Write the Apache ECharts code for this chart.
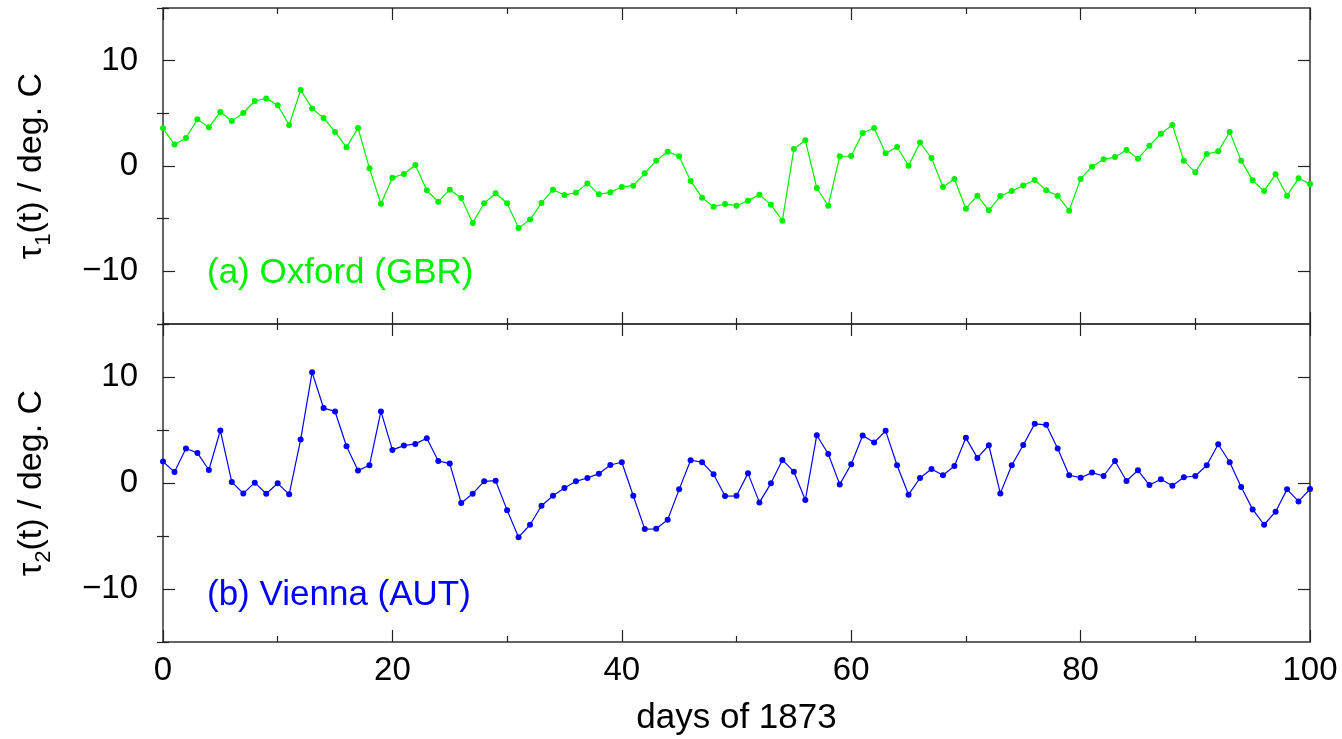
<!DOCTYPE html>
<html>
<head>
<meta charset="utf-8">
<title>days of 1873</title>
<script src="https://cdn.jsdelivr.net/npm/echarts@6/dist/echarts.min.js"></script>
<style>
    html, body { margin: 0; padding: 0; background: #fff; }
    #chart { width: 1342px; height: 739px; }
</style>
</head>
<body>
<div id="chart"></div>
<script>
// 天数 0..100
const days = [];
for (let d = 0; d <= 100; d++) days.push(d);

// (a) Oxford 温度偏差
const oxford = [
    3.58, 2.03, 2.66, 4.43, 3.67, 5.13, 4.27, 5.03, 6.17, 6.42,
    5.76, 3.89, 7.22, 5.47, 4.56, 3.23, 1.77, 3.61, -0.22, -3.58,
    -1.11, -0.76, 0.09, -2.31, -3.39, -2.25, -3.04, -5.41, -3.54, -2.59,
    -3.54, -5.89, -5.09, -3.51, -2.25, -2.75, -2.53, -1.65, -2.69, -2.50,
    -1.99, -1.87, -0.70, 0.51, 1.36, 0.92, -1.42, -3.01, -3.86, -3.61,
    -3.77, -3.29, -2.72, -3.67, -5.19, 1.61, 2.44, -2.09, -3.77, 0.92,
    0.95, 3.13, 3.61, 1.20, 1.80, 0.03, 2.22, 0.76, -1.99, -1.23,
    -4.05, -2.82, -4.21, -2.85, -2.37, -1.85, -1.33, -2.31, -2.82, -4.24,
    -1.23, -0.06, 0.63, 0.85, 1.52, 0.70, 1.93, 3.07, 3.89, 0.51,
    -0.60, 1.14, 1.39, 3.23, 0.51, -1.36, -2.37, -0.79, -2.82, -1.17,
    -1.71
];

// (b) Vienna 温度偏差
const vienna = [
    2.02, 1.04, 3.25, 2.84, 1.23, 4.95, 0.09, -0.98, 0.03, -1.01,
    -0.03, -1.07, 4.10, 10.44, 7.07, 6.75, 3.47, 1.17, 1.67, 6.75,
    3.12, 3.53, 3.69, 4.23, 2.08, 1.83, -1.89, -1.01, 0.16, 0.22,
    -2.56, -5.11, -3.94, -2.15, -1.20, -0.47, 0.16, 0.47, 0.88, 1.70,
    1.96, -1.20, -4.35, -4.32, -3.47, -0.60, 2.15, 1.96, 0.82, -1.23,
    -1.21, 0.91, -1.83, -0.03, 2.18, 1.07, -1.61, 4.51, 2.74, -0.13,
    1.77, 4.48, 3.82, 4.92, 1.67, -1.10, 0.47, 1.32, 0.73, 1.61,
    4.26, 2.37, 3.56, -0.98, 1.67, 3.58, 5.58, 5.49, 3.25, 0.73,
    0.50, 0.98, 0.66, 2.08, 0.19, 1.20, -0.19, 0.35, -0.25, 0.54,
    0.66, 1.67, 3.66, 1.96, -0.38, -2.49, -3.94, -2.71, -0.60, -1.74,
    -0.57
];

// 刻度
const yMajorTicks = [-10, 0, 10];
const yMinorTicks = [-15, -5, 5, 15];

const FONT = "'Liberation Sans', Arial, sans-serif";
const FRAME = '#333';
const GREEN = '#00f000';
const BLUE = '#0000ff';

let chart;

// x轴 (底部/顶部)
function makeXAxis(grid, position, showLabel) {
    return {
        type: 'value',
        gridIndex: grid,
        position: position,
        min: 0,
        max: 100,
        interval: 20,
        axisLine: { show: true, onZero: false, lineStyle: { color: FRAME, width: 1.5 } },
        axisTick: { show: true, inside: true, length: 12, lineStyle: { color: '#222', width: 1.2 } },
        minorTick: { show: true, splitNumber: 2, length: 6, lineStyle: { color: '#222', width: 1.2 } },
        splitLine: { show: false },
        axisLabel: {
            show: showLabel,
            margin: 12,
            color: '#000',
            fontSize: 33,
            fontFamily: FONT
        },
        name: showLabel ? 'days of 1873' : '',
        nameLocation: 'middle',
        nameGap: 59,
        nameTextStyle: { color: '#000', fontSize: 35, fontFamily: FONT }
    };
}

// y轴: 主刻度 + 标签
function makeYAxis(grid, position, showLabel, sub) {
    return {
        type: 'value',
        gridIndex: grid,
        position: position,
        min: -15,
        max: 15,
        interval: 5,
        axisLine: { show: true, onZero: false, lineStyle: { color: FRAME, width: 1.5 } },
        axisTick: { show: true, inside: true, length: 12, customValues: yMajorTicks, lineStyle: { color: '#222', width: 1.2 } },
        splitLine: { show: false },
        axisLabel: {
            show: showLabel,
            customValues: yMajorTicks,
            margin: 25,
            color: '#000',
            fontSize: 33,
            fontFamily: FONT,
            formatter: function(v) {
                return v < 0 ? '\u2212' + Math.abs(v) : String(v);
            }
        },
        name: showLabel ? '{t|\u03c4}{s|' + sub + '}{t|(t) / deg. C}' : '',
        nameLocation: 'middle',
        nameRotate: 90,
        nameGap: 114,
        nameTextStyle: {
            rich: {
                t: { fontSize: 34, fontFamily: FONT, color: '#000', verticalAlign: 'bottom' },
                s: { fontSize: 22, fontFamily: FONT, color: '#000', verticalAlign: 'bottom', padding: [0, 0, -6, 0] }
            }
        }
    };
}

// y轴: 次刻度 (只画短刻度)
function makeYMinor(grid, position) {
    return {
        type: 'value',
        gridIndex: grid,
        position: position,
        min: -15,
        max: 15,
        interval: 5,
        axisLine: { show: false },
        axisTick: { show: true, inside: true, length: 6, customValues: yMinorTicks, lineStyle: { color: '#222', width: 1.2 } },
        splitLine: { show: false },
        axisLabel: { show: false }
    };
}

function makeSeries(name, data, color, grid) {
    return {
        name: name,
        type: 'line',
        xAxisIndex: grid * 2,
        yAxisIndex: grid * 4,
        data: days.map((d, i) => [d, data[i]]),
        symbol: 'circle',
        symbolSize: 6,
        itemStyle: { color: color },
        lineStyle: { color: color, width: 1.2 },
        z: 5
    };
}

function init() {
    chart = echarts.init(document.getElementById('chart'));

    const option = {
        animation: false,
        backgroundColor: '#fff',
        grid: [
            { left: 163, right: 32, top: 8, height: 316 },
            { left: 163, right: 32, top: 324, height: 318 }
        ],
        xAxis: [
            makeXAxis(0, 'bottom', false),
            makeXAxis(0, 'top', false),
            makeXAxis(1, 'bottom', true),
            makeXAxis(1, 'top', false)
        ],
        yAxis: [
            makeYAxis(0, 'left', true, '1'),
            makeYMinor(0, 'left'),
            makeYAxis(0, 'right', false, ''),
            makeYMinor(0, 'right'),
            makeYAxis(1, 'left', true, '2'),
            makeYMinor(1, 'left'),
            makeYAxis(1, 'right', false, ''),
            makeYMinor(1, 'right')
        ],
        series: [
            makeSeries('(a) Oxford (GBR)', oxford, GREEN, 0),
            makeSeries('(b) Vienna (AUT)', vienna, BLUE, 1)
        ],
        graphic: [
            {
                type: 'text', left: 207, top: 256,
                style: { text: '(a) Oxford (GBR)', fill: GREEN, font: '35px ' + FONT }
            },
            {
                type: 'text', left: 207, top: 578,
                style: { text: '(b) Vienna (AUT)', fill: BLUE, font: '35px ' + FONT }
            }
        ]
    };

    chart.setOption(option);
}

window.addEventListener('DOMContentLoaded', init);
</script>
</body>
</html>
